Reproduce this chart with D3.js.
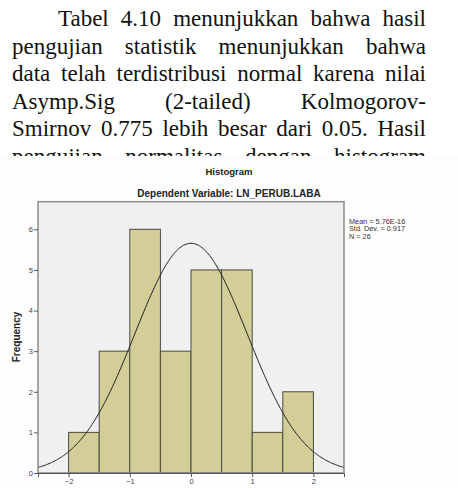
<!DOCTYPE html>
<html>
<head>
<meta charset="utf-8">
<script src="https://cdn.jsdelivr.net/npm/d3@7"></script>
<style>
  body { margin: 0; width: 458px; height: 488px; overflow: hidden; background: #fff; position: relative; }
  #para { position: absolute; left: 12px; top: 5px; width: 414px; height: 151px; overflow: hidden;
          font-family: "Liberation Serif", "Times New Roman", serif; font-size: 23px; line-height: 27.5px; color: #111; }
  #para div { text-align: justify; text-align-last: justify; white-space: nowrap; }
  #chart { position: absolute; left: 0; top: 0; }
</style>
</head>
<body>
<div id="para"></div>
<svg id="chart" width="458" height="488"></svg>
<script>
// paragraph lines as they break in the page
var lines = [
  "Tabel 4.10 menunjukkan bahwa hasil",
  "pengujian statistik menunjukkan bahwa",
  "data telah terdistribusi normal karena nilai",
  "Asymp.Sig (2-tailed) Kolmogorov-",
  "Smirnov 0.775 lebih besar dari 0.05. Hasil",
  "pengujian normalitas dengan histogram"
];

// histogram data
var binStarts = [-2, -1.5, -1, -0.5, 0, 0.5, 1, 1.5];
var counts = [1, 3, 6, 3, 5, 5, 1, 2];
var binWidth = 0.5;
var xTicks = [-2, -1, 0, 1, 2];
var yTicks = [0, 1, 2, 3, 4, 5, 6];
var mean = 5.76e-16, sd = 0.917, n = 26;
var statLabels = ["Mean = 5.76E-16", "Std. Dev. = 0.917", "N = 26"];

var para = d3.select("#para");
lines.forEach(function(t, i) {
    para.append("div")
        .style("padding-left", i === 0 ? "46px" : "0px")
        .text(t);
});

var svg = d3.select("#chart");

// sheet of the pasted chart image
svg.append("rect")
    .attr("x", 0).attr("y", 156)
    .attr("width", 458).attr("height", 332)
    .attr("fill", "#fdfdfd");

var x = d3.scaleLinear().domain([-2.5, 2.5]).range([38, 344]);
var y = d3.scaleLinear().domain([0, 6.68]).range([473, 201.7]);

svg.append("text")
    .attr("x", 229).attr("y", 175)
    .attr("text-anchor", "middle")
    .style("font-family", "Liberation Sans, Arial, sans-serif")
    .style("font-size", "9.5px").style("font-weight", "bold")
    .attr("fill", "#222")
    .text("Histogram");

svg.append("text")
    .attr("x", 229).attr("y", 197)
    .attr("text-anchor", "middle")
    .style("font-family", "Liberation Sans, Arial, sans-serif")
    .style("font-size", "10px").style("font-weight", "bold")
    .attr("fill", "#222")
    .text("Dependent Variable: LN_PERUB.LABA");

// plot background
svg.append("rect")
    .attr("x", x(-2.5)).attr("y", y(6.68))
    .attr("width", x(2.5) - x(-2.5)).attr("height", y(0) - y(6.68))
    .attr("fill", "#f0f0f0");

// bars
svg.append("g").selectAll("rect")
    .data(binStarts)
    .join("rect")
    .attr("x", function(d) { return x(d); })
    .attr("y", function(d, i) { return y(counts[i]); })
    .attr("width", function(d) { return x(d + binWidth) - x(d); })
    .attr("height", function(d, i) { return y(0) - y(counts[i]); })
    .attr("fill", "#d3ce98")
    .attr("stroke", "#4a4a40")
    .attr("stroke-width", 1);

// fitted normal curve
var scaleN = n * binWidth / (sd * Math.sqrt(2 * Math.PI));
var pts = d3.range(-2.5, 2.5001, 0.02).map(function(v) {
    return [v, scaleN * Math.exp(-0.5 * Math.pow((v - mean) / sd, 2))];
});
svg.append("path")
    .datum(pts)
    .attr("fill", "none")
    .attr("stroke", "#222")
    .attr("stroke-width", 1)
    .attr("d", d3.line().x(function(d) { return x(d[0]); }).y(function(d) { return y(d[1]); }));

// plot frame
svg.append("rect")
    .attr("x", x(-2.5)).attr("y", y(6.68))
    .attr("width", x(2.5) - x(-2.5)).attr("height", y(0) - y(6.68))
    .attr("fill", "none")
    .attr("stroke", "#8a8a8a")
    .attr("stroke-width", 1.5);

var yAxis = svg.append("g")
    .attr("transform", "translate(" + x(-2.5) + ",0)")
    .call(d3.axisLeft(y).tickValues(yTicks).tickSize(4).tickPadding(1).tickFormat(d3.format("d")));
var xAxis = svg.append("g")
    .attr("transform", "translate(0," + y(0) + ")")
    .call(d3.axisBottom(x).tickValues(xTicks).tickSize(4).tickPadding(2).tickFormat(d3.format("d")));
[yAxis, xAxis].forEach(function(a) {
    a.select(".domain").attr("stroke", "#555");
    a.selectAll(".tick line").attr("stroke", "#555");
    a.selectAll(".tick text")
        .attr("fill", "#444")
        .style("font-family", "Liberation Sans, Arial, sans-serif")
        .style("font-size", "7.5px");
});
yAxis.select(".domain").remove();

svg.append("text")
    .attr("transform", "translate(20,337) rotate(-90)")
    .attr("text-anchor", "middle")
    .style("font-family", "Liberation Sans, Arial, sans-serif")
    .style("font-size", "10px").style("font-weight", "bold")
    .attr("fill", "#222")
    .text("Frequency");

svg.append("g").selectAll("text")
    .data(statLabels)
    .join("text")
    .attr("x", 349)
    .attr("y", function(d, i) { return 223.5 + i * 7.5; })
    .style("font-family", "Liberation Sans, Arial, sans-serif")
    .style("font-size", "7.3px")
    .attr("fill", "#333")
    .text(function(d) { return d; });
</script>
</body>
</html>
